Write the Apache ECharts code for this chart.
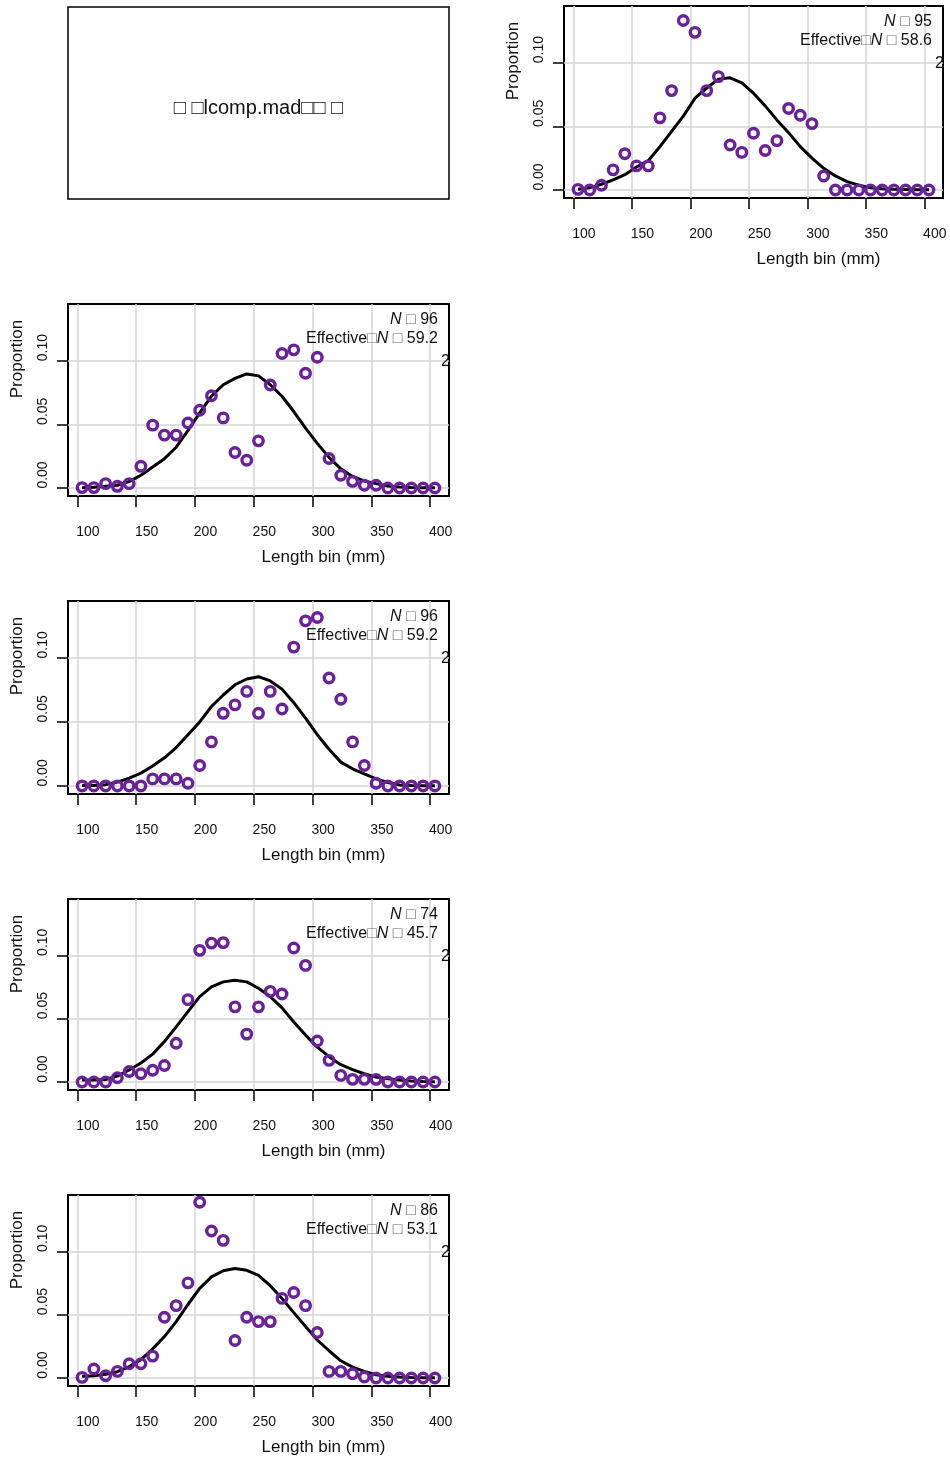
<!DOCTYPE html>
<html>
<head>
<meta charset="utf-8">
<script src="https://cdn.jsdelivr.net/npm/echarts@6/dist/echarts.min.js"></script>
<style>
  html, body { margin: 0; padding: 0; background: #fff; }
  #chart { width: 950px; height: 1458px; }
</style>
</head>
<body>
<div id="chart"></div>
<script>
// ---------- data ----------
const bins = [104,114,124,134,144,154,164,174,184,194,204,214,224,234,244,254,264,274,284,294,304,314,324,334,344,354,364,374,384,394,404];
const xTicks = [100,150,200,250,300,350,400];
const yTicks = [0,0.05,0.10];

const obs1 = [0.0005,0,0.0037,0.0158,0.0284,0.0189,0.0189,0.0566,0.078,0.133,0.1237,0.078,0.089,0.0353,0.0295,0.0445,0.031,0.0387,0.064,0.0587,0.0521,0.011,0,0,0,0,0,0,0,0,0];
const exp1 = [0.0005,0.0018,0.0045,0.008,0.012,0.018,0.023,0.034,0.046,0.058,0.072,0.080,0.087,0.088,0.084,0.076,0.066,0.055,0.045,0.034,0.025,0.017,0.011,0.0066,0.0037,0.0018,0.001,0.0005,0.0003,0.0001,0.0001];

const obs2 = [0.0003,0.0003,0.0034,0.0013,0.0034,0.017,0.0493,0.0415,0.0415,0.051,0.061,0.0724,0.055,0.0278,0.0218,0.037,0.0808,0.1055,0.1084,0.090,0.1026,0.0231,0.010,0.0052,0.0021,0.0021,0,0,0,0,0];
const exp2 = [0.0002,0.0005,0.0013,0.0021,0.005,0.010,0.0165,0.023,0.032,0.045,0.059,0.072,0.081,0.086,0.0895,0.088,0.081,0.072,0.060,0.047,0.035,0.024,0.015,0.009,0.0055,0.0034,0.0016,0.0008,0.0004,0.0002,0.0001];

const obs3 = [0,0,0,0,0,0,0.0055,0.0055,0.0055,0.0021,0.016,0.0344,0.0567,0.0633,0.0738,0.0567,0.0738,0.0601,0.1084,0.1289,0.1315,0.0843,0.0677,0.0344,0.016,0.0021,0,0,0,0,0];
const exp3 = [0.0003,0.0003,0.001,0.003,0.006,0.010,0.0155,0.022,0.030,0.040,0.050,0.062,0.071,0.079,0.0835,0.0853,0.082,0.0756,0.065,0.053,0.040,0.0286,0.0186,0.0134,0.0094,0.0055,0.0027,0.0008,0.0003,0.0001,0.0001];

const obs4 = [0,0,0,0.0034,0.0083,0.0065,0.0093,0.013,0.0306,0.065,0.1039,0.1096,0.110,0.0593,0.0378,0.0593,0.0715,0.0694,0.1057,0.092,0.0324,0.0171,0.0052,0.0021,0.0021,0.0021,0,0,0,0,0];
const exp4 = [0.0015,0.0015,0.002,0.0047,0.0095,0.015,0.022,0.032,0.0435,0.0555,0.0674,0.075,0.079,0.0803,0.079,0.074,0.0674,0.0585,0.0474,0.037,0.0275,0.020,0.0137,0.0098,0.0065,0.0039,0.0026,0.0015,0.0008,0.0005,0.0003];

const obs5 = [0.0005,0.0071,0.0018,0.0052,0.0113,0.0113,0.0173,0.0479,0.0571,0.0751,0.1387,0.116,0.1086,0.0296,0.0479,0.0445,0.0445,0.0628,0.0675,0.0571,0.0359,0.0052,0.0052,0.0034,0.0008,0,0,0,0,0,0];
const exp5 = [0.0013,0.0018,0.003,0.005,0.009,0.0144,0.023,0.0327,0.0445,0.058,0.0707,0.0798,0.0846,0.0864,0.085,0.081,0.0728,0.0628,0.0516,0.0406,0.030,0.0215,0.0136,0.0086,0.0052,0.0026,0.0014,0.0008,0.0005,0.0003,0.0002];

const sampleN = ['95','96','96','74','86'];
const effN = ['58.6','59.2','59.2','45.7','53.1'];
const titleText = '□ □lcomp.mad□□ □';
const xName = 'Length bin (mm)';
const yName = 'Proportion';

// ---------- layout / style ----------
const FONT = '"Liberation Sans", Arial, Helvetica, sans-serif';
const PURPLE = '#6a2297';
const panels = [
  {left: 564, top: 6,    width: 379, height: 192},
  {left: 68,  top: 304,  width: 381, height: 192},
  {left: 68,  top: 601,  width: 381, height: 193},
  {left: 68,  top: 899,  width: 381, height: 191},
  {left: 68,  top: 1195, width: 381, height: 191}
];
const obsList = [obs1, obs2, obs3, obs4, obs5];
const expList = [exp1, exp2, exp3, exp4, exp5];
const Y_MIN = -0.0063, Y_MAX = 0.1444;

const pairs = arr => bins.map((b, i) => [b, arr[i]]);

const grids = panels.map(p => ({
  left: p.left, top: p.top, width: p.width, height: p.height,
  show: true, borderColor: '#000', borderWidth: 2, backgroundColor: 'transparent',
  containLabel: false
}));

const xAxes = panels.map((p, i) => ({
  gridIndex: i, type: 'value', min: 92, max: 416,
  axisLine: {show: false, onZero: false},
  axisTick: {show: true, inside: false, length: 11, customValues: xTicks,
             lineStyle: {color: '#000', width: 1.5}},
  axisLabel: {customValues: xTicks, fontSize: 14, color: '#111', fontFamily: FONT,
              margin: 29, padding: [0, 0, 0, 21], hideOverlap: false,
              showMinLabel: true, showMaxLabel: true},
  splitLine: {show: true, lineStyle: {color: '#d4d4d4', width: 1.5}}
}));

const yAxes = panels.map((p, i) => ({
  gridIndex: i, type: 'value', min: Y_MIN, max: Y_MAX,
  axisLine: {show: false, onZero: false},
  axisTick: {show: true, inside: false, length: 11, customValues: yTicks,
             lineStyle: {color: '#000', width: 1.5}},
  axisLabel: {customValues: yTicks, fontSize: 14, color: '#111', fontFamily: FONT,
              rotate: 90, margin: 18, padding: [0, 0, 0, 26],
              formatter: v => v.toFixed(2), showMinLabel: true, showMaxLabel: true},
  splitLine: {show: true, lineStyle: {color: '#d4d4d4', width: 1.5}}
}));

const series = [];
panels.forEach((p, i) => {
  series.push({
    type: 'line', xAxisIndex: i, yAxisIndex: i, data: pairs(expList[i]),
    symbol: 'none', smooth: false, z: 3,
    lineStyle: {color: '#000', width: 3}, silent: true, animation: false
  });
  series.push({
    type: 'scatter', xAxisIndex: i, yAxisIndex: i, data: pairs(obsList[i]),
    symbol: 'circle', symbolSize: 9.5, z: 4,
    itemStyle: {color: 'rgba(0,0,0,0)', borderColor: PURPLE, borderWidth: 3.4, opacity: 1},
    silent: true, animation: false
  });
});

const graphic = [];
// empty title panel
graphic.push({
  type: 'rect', shape: {x: 68, y: 7, width: 381, height: 192},
  style: {fill: 'none', stroke: '#000', lineWidth: 1.5}, z: 10
});
graphic.push({
  type: 'text', x: 258.5, y: 108, z: 10,
  style: {text: titleText, font: '20px ' + FONT, fill: '#111',
          textAlign: 'center', textVerticalAlign: 'middle', verticalAlign: 'middle'}
});

panels.forEach((p, i) => {
  const right = p.left + p.width;
  const bottom = p.top + p.height;
  const rich = {
    i: {fontStyle: 'italic', fontSize: 16, fontFamily: FONT, fill: '#111', color: '#111'},
    b: {fontSize: 16, fontFamily: FONT, fill: '#666', color: '#666'}
  };
  graphic.push({
    type: 'text', x: right - 11, y: p.top + 16, z: 10,
    style: {text: '{i|N} {b|□} ' + sampleN[i], rich: rich, font: '16px ' + FONT, fill: '#111',
            textAlign: 'right', textVerticalAlign: 'middle', verticalAlign: 'middle'}
  });
  graphic.push({
    type: 'text', x: right - 11, y: p.top + 34.5, z: 10,
    style: {text: 'Effective{b|□}{i|N} {b|□} ' + effN[i], rich: rich, font: '16px ' + FONT, fill: '#111',
            textAlign: 'right', textVerticalAlign: 'middle', verticalAlign: 'middle'}
  });
  // partially clipped "2" at the 0.10 level
  const y010 = p.top + p.height * (Y_MAX - 0.10) / (Y_MAX - Y_MIN);
  graphic.push({
    type: 'text', x: right + 1, y: y010 + 1, z: 10,
    style: {text: '2', font: '16px ' + FONT, fill: '#111',
            textAlign: 'right', textVerticalAlign: 'middle', verticalAlign: 'middle'}
  });
  // axis titles
  graphic.push({
    type: 'text', x: p.left + p.width / 2 + 65, y: bottom + 61, z: 10,
    style: {text: xName, font: '17px ' + FONT, fill: '#111',
            textAlign: 'center', textVerticalAlign: 'middle', verticalAlign: 'middle'}
  });
  graphic.push({
    type: 'text', x: p.left - 51, y: p.top + 55, rotation: Math.PI / 2, z: 10,
    style: {text: yName, font: '17px ' + FONT, fill: '#111',
            textAlign: 'center', textVerticalAlign: 'middle', verticalAlign: 'middle'}
  });
});

const chart = echarts.init(document.getElementById('chart'), null, {renderer: 'canvas'});
chart.setOption({
  animation: false,
  backgroundColor: '#fff',
  grid: grids,
  xAxis: xAxes,
  yAxis: yAxes,
  series: series,
  graphic: graphic
});
</script>
</body>
</html>
